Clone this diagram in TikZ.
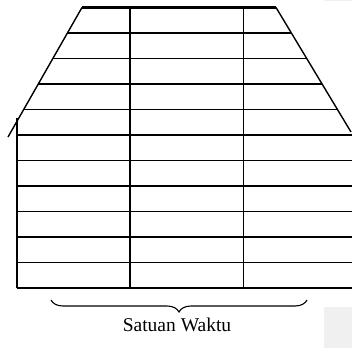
\documentclass[tikz,border=0pt]{standalone}
\usepackage{fontspec}
\setmainfont{Liberation Serif}
\usetikzlibrary{decorations.pathreplacing,calc}
\begin{document}
\begin{tikzpicture}[x=1pt,y=-1pt,
  gridline/.style={line width=1.1pt,black},
  slant/.style={line width=1.4pt,black},
  topline/.style={line width=2.2pt,black},
  shade/.style={fill=black!6,draw=none}]
\useasboundingbox (0,0) rectangle (352,348);
\fill[shade] (324,307) rectangle (352,348);
\fill[shade] (324,0) rectangle (352,1.2);
% roof corners
\coordinate (TL) at (82,7.5);
\coordinate (TR) at (276,7.5);
\coordinate (BL) at (8,137);
\coordinate (BR) at (351,132);
\draw[topline] (TL) -- (TR);
\draw[slant] (TL) -- (BL);
\draw[slant] (TR) -- (BR);
% upper rows bounded by the slants
\foreach \y in {33,58.5,84,109.5}{
  \draw[gridline] (intersection of TL--BL and 0,\y--352,\y) -- (intersection of TR--BR and 0,\y--352,\y);
}
% lower rows
\foreach \y in {135,160.5,186,211.5,237,262.5,288}{
  \draw[gridline] (17,\y) -- (352,\y);
}
% verticals
\coordinate (V1t) at (17,118); \coordinate (V1b) at (17,288);
\coordinate (V2t) at (130,7.5); \coordinate (V2b) at (130,288);
\coordinate (V3t) at (243.5,7.5); \coordinate (V3b) at (243.5,288);
\draw[gridline] (V1t) -- (V1b);
\draw[gridline] (V2t) -- (V2b);
\draw[gridline] (V3t) -- (V3b);
% brace
\coordinate (bl) at (51,300);
\coordinate (br) at (307,300);
\draw[line width=1.1pt,decorate,decoration={brace,mirror,amplitude=12pt}] (bl) -- (br);
\node[font=\fontsize{19.5}{22}\selectfont,inner sep=0pt,anchor=base] (lab) at (177,331) {Satuan Waktu};
\end{tikzpicture}
\end{document}
